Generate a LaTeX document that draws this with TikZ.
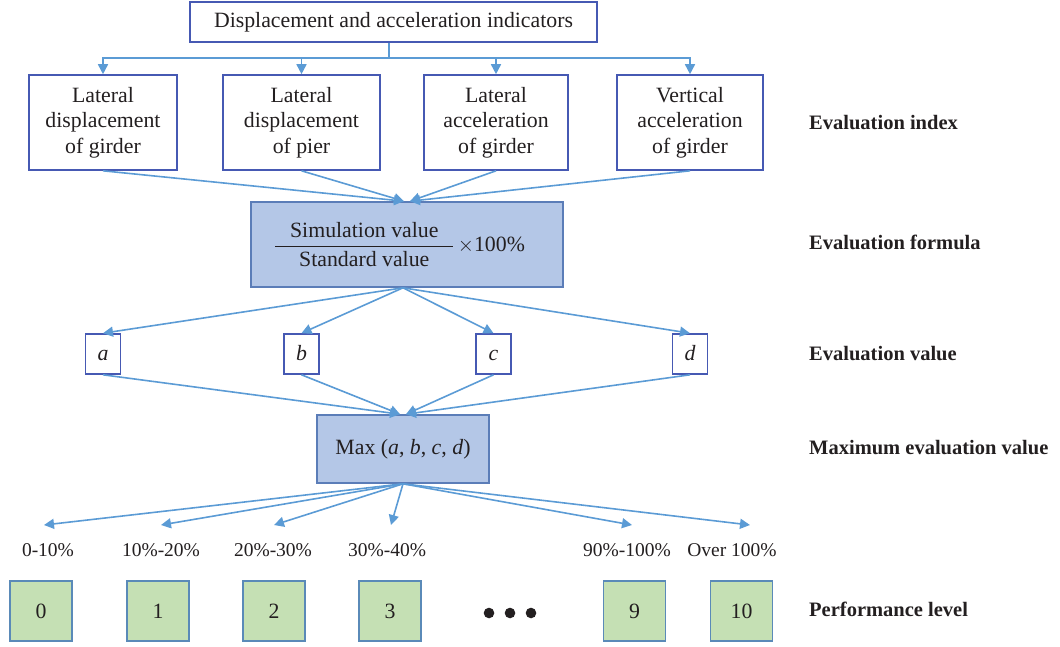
\documentclass[tikz,border=0pt]{standalone}
\usepackage{fontspec}
\setmainfont{Liberation Serif}
\usetikzlibrary{arrows.meta}
\definecolor{arrowblue}{HTML}{5B9BD5}
\definecolor{boxline}{HTML}{4659B3}
\definecolor{fillblue}{HTML}{B4C7E7}
\definecolor{fillline}{HTML}{5B7DB8}
\definecolor{fillgreen}{HTML}{C5E0B4}
\definecolor{greenline}{HTML}{5A8AB8}
\definecolor{txt}{HTML}{231F20}
\tikzset{
  every node/.style={text=txt},
  base/.style={font=\fontsize{21.8}{25.7}\selectfont, inner sep=0pt, align=center},
  whitebox/.style={base, draw=boxline, line width=1.6pt, fill=white},
  bluebox/.style={base, draw=fillline, line width=1.6pt, fill=fillblue},
  greenbox/.style={base, draw=greenline, line width=1.6pt, fill=fillgreen, minimum width=62pt, minimum height=60pt, text height=19pt, text depth=4.6pt},
  valbox/.style={whitebox, minimum width=35pt, minimum height=40pt, text height=18pt, text depth=4.6pt},
  conn/.style={draw=arrowblue, line width=1.6pt},
  arr/.style={conn, -{Triangle[length=10pt,width=10pt]}},
  sidelabel/.style={font=\fontsize{20.5}{24}\selectfont\bfseries, anchor=mid west, inner sep=0pt},
  pctlabel/.style={font=\fontsize{19.5}{23}\selectfont, anchor=mid, inner sep=0pt},
  dotmark/.style={fill=txt, draw=none}
}
\begin{document}
\begin{tikzpicture}[x=1pt,y=-1pt]
\useasboundingbox (0,0) rectangle (1060,646);

% top box
\node[whitebox, minimum width=407pt, minimum height=40pt] (top) at (393.5,22) {Displacement and acceleration indicators};
\coordinate (busc) at (389,58);

% evaluation index boxes
\node[whitebox, minimum width=148pt, minimum height=95pt] (b1) at (103,122.5) {Lateral\\displacement\\of girder};
\node[whitebox, minimum width=157pt, minimum height=95pt] (b2) at (301.5,122.5) {Lateral\\displacement\\of pier};
\node[whitebox, minimum width=144pt, minimum height=95pt] (b3) at (496,122.5) {Lateral\\acceleration\\of girder};
\node[whitebox, minimum width=146pt, minimum height=95pt] (b4) at (690,122.5) {Vertical\\acceleration\\of girder};

\draw[conn] (top.south -| busc) -- (busc);
\draw[arr] (busc) -| (b1.north);
\draw[arr] (busc) -| (b2.north);
\draw[arr] (busc) -| (b3.north);
\draw[arr] (busc) -| (b4.north);

% formula box
\node[bluebox, minimum width=312pt, minimum height=85pt] (formula) at (407,244.5)
  {$\displaystyle\frac{\mbox{\makebox[178pt]{Simulation value}}}{\mbox{Standard value}}\,$$\times$100\%\hspace*{15pt}};

\draw[arr] (b1.south) -- ([xshift=-3pt]formula.north);
\draw[arr] (b2.south) -- ([xshift=-3pt]formula.north);
\draw[arr] (b3.south) -- ([xshift=3pt]formula.north);
\draw[arr] (b4.south) -- ([xshift=3pt]formula.north);

% evaluation values
\node[valbox] (va) at (103,354) {\textit{a}};
\node[valbox] (vb) at (301.5,354) {\textit{b}};
\node[valbox] (vc) at (493.5,354) {\textit{c}};
\node[valbox] (vd) at (690,354) {\textit{d}};

\draw[arr] ([xshift=-4pt]formula.south) -- (va.north);
\draw[arr] ([xshift=-4pt]formula.south) -- (vb.north);
\draw[arr] ([xshift=-4pt]formula.south) -- (vc.north);
\draw[arr] ([xshift=-4pt]formula.south) -- (vd.north);

% max box
\node[bluebox, minimum width=172pt, minimum height=68pt] (max) at (403,449) {Max (\textit{a}, \textit{b}, \textit{c}, \textit{d})};

\draw[arr] (va.south) -- ([xshift=-3pt]max.north);
\draw[arr] (vb.south) -- ([xshift=-3pt]max.north);
\draw[arr] (vc.south) -- ([xshift=3pt]max.north);
\draw[arr] (vd.south) -- ([xshift=3pt]max.north);

% percentage arrows
\coordinate (p0) at (44,525);
\coordinate (p1) at (161,525);
\coordinate (p2) at (274,525);
\coordinate (p3) at (391,525);
\coordinate (p9) at (632,525);
\coordinate (p10) at (750,525);
\foreach \p in {p0,p1,p2,p3,p9,p10} \draw[arr] (max.south) -- (\p);

\node[pctlabel] (l0) at (48,554) {0-10\%};
\node[pctlabel] (l1) at (161,554) {10\%-20\%};
\node[pctlabel] (l2) at (273,554) {20\%-30\%};
\node[pctlabel] (l3) at (387,554) {30\%-40\%};
\node[pctlabel] (l9) at (627,554) {90\%-100\%};
\node[pctlabel] (l10) at (732,554) {Over 100\%};

% performance levels
\node[greenbox] (g0) at (41,611) {0};
\node[greenbox] (g1) at (158,611) {1};
\node[greenbox] (g2) at (274,611) {2};
\node[greenbox] (g3) at (390,611) {3};
\node[greenbox] (g9) at (634.5,611) {9};
\node[greenbox] (g10) at (741.5,611) {10};

\fill[dotmark] (489,613) circle (5.3pt);
\fill[dotmark] (510,613) circle (5.3pt);
\fill[dotmark] (531,613) circle (5.3pt);

% side labels
\node[sidelabel] (s1) at (809,127) {Evaluation index};
\node[sidelabel] (s2) at (809,247) {Evaluation formula};
\node[sidelabel] (s3) at (809,358) {Evaluation value};
\node[sidelabel] (s4) at (809,452) {Maximum evaluation value};
\node[sidelabel] (s5) at (809,614) {Performance level};
\end{tikzpicture}
\end{document}
